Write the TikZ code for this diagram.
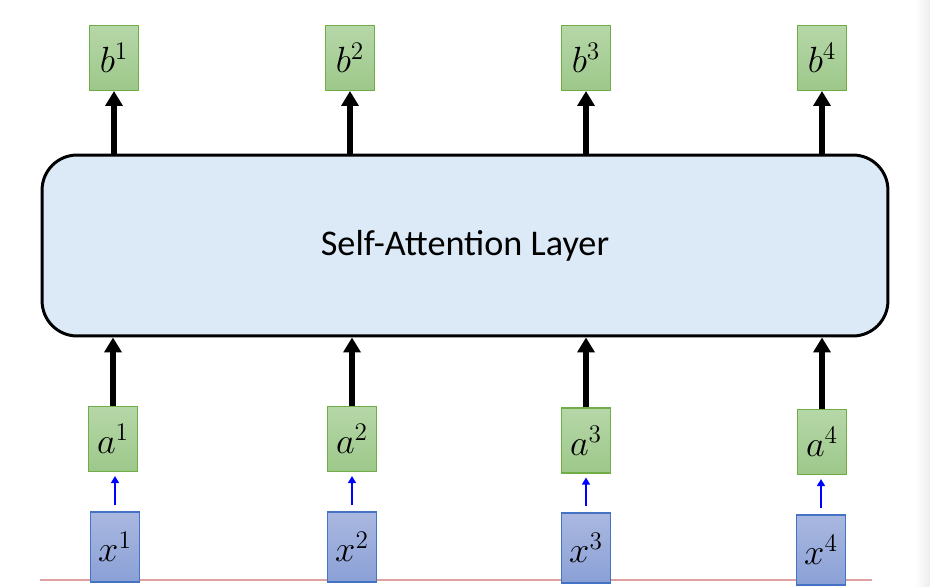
\documentclass[tikz,border=0pt]{standalone}
\usepackage{amsmath}
\usepackage{fontspec}
\usepackage{xcolor}
\usepackage{tikz}
\usetikzlibrary{positioning, arrows.meta}
\newfontfamily\slidefont{Carlito}
\definecolor{boxgreen}{RGB}{112,173,71}
\definecolor{boxblue}{RGB}{68,114,196}
\definecolor{layerfill}{RGB}{220,233,246}
\definecolor{pinkrule}{RGB}{222,160,160}

\begin{document}
\begin{tikzpicture}[x=0.02cm, y=-0.02cm,
  outbox/.style={draw=boxgreen, line width=0.6pt, top color={rgb,255:red,182;green,215;blue,168}, bottom color={rgb,255:red,157;green,200;blue,138}, minimum width=0.98cm, minimum height=1.3cm, inner sep=0pt, font=\fontsize{21}{25}\selectfont},
  inbox/.style={draw=boxblue, line width=0.6pt, top color={rgb,255:red,170;green,184;blue,224}, bottom color={rgb,255:red,138;green,160;blue,214}, minimum width=0.98cm, minimum height=1.4cm, inner sep=0pt, font=\fontsize{21}{25}\selectfont},
  fatarrow/.style={-{Triangle[width=9.6pt,length=8.5pt]}, line width=2.9pt, black},
  thinarrow/.style={-{Triangle[width=4.5pt,length=4pt]}, line width=1.1pt, blue}]
\useasboundingbox (0,0) rectangle (930,587);
% right edge of the slide
\shade[left color=white, right color=black!7] (915,0) rectangle (930,587);
% bottom line
\draw[pinkrule, line width=0.6pt] (40,580) -- (872,580);
% the layer
\node[draw=black, line width=1.7pt, rounded corners=0.7cm, fill=layerfill, minimum width=16.92cm, minimum height=3.62cm, font=\slidefont\fontsize{20.6}{24}\selectfont] (layer) at (465,245.5) {Self-Attention Layer};
% outputs
\node[outbox] (b1) at (114,58) {$b^1$};
\node[outbox] (b2) at (350,58) {$b^2$};
\node[outbox] (b3) at (586,58) {$b^3$};
\node[outbox] (b4) at (822,58) {$b^4$};
% inputs
\node[outbox] (a1) at (113,439) {$a^1$};
\node[outbox] (a2) at (352,439) {$a^2$};
\node[outbox] (a3) at (586,440.5) {$a^3$};
\node[outbox] (a4) at (822,442) {$a^4$};
\node[inbox] (x1) at (115,547) {$x^1$};
\node[inbox] (x2) at (352,547) {$x^2$};
\node[inbox] (x3) at (586,548) {$x^3$};
\node[inbox] (x4) at (821,550) {$x^4$};
% arrows
\foreach \i in {1,2,3,4} {
  \draw[thinarrow] ([yshift=0.12cm]x\i.north) -- ([yshift=-0.08cm]x\i.north |- a\i.south);
  \draw[fatarrow] (a\i.north) -- (a\i.north |- layer.south);
  \draw[fatarrow] (b\i.south |- layer.north) -- (b\i.south);
}
\end{tikzpicture}
\end{document}
